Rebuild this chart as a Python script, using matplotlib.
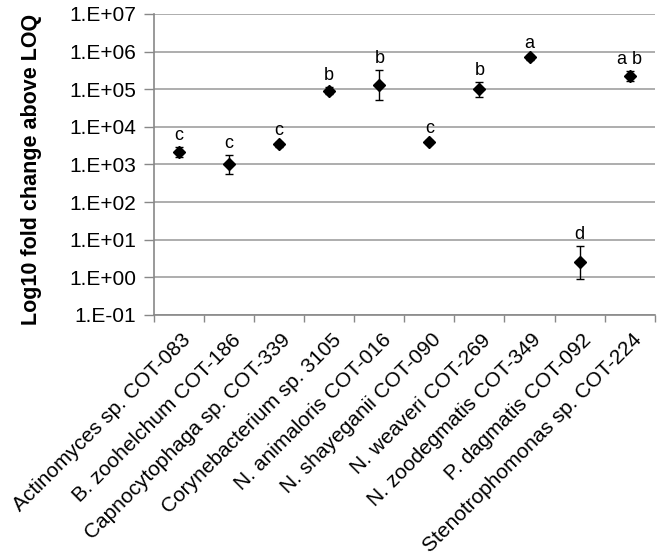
import numpy as np
import matplotlib.pyplot as plt
from matplotlib.ticker import FixedLocator, NullFormatter
from matplotlib.transforms import ScaledTranslation

plt.rcParams['font.family'] = ['Liberation Sans', 'DejaVu Sans']

# data
strains = ['Actinomyces sp. COT-083', 'B. zoohelchum COT-186', 'Capnocytophaga sp. COT-339',
           'Corynebacterium sp. 3105', 'N. animaloris COT-016', 'N. shayeganii COT-090',
           'N. weaveri COT-269', 'N. zoodegmatis COT-349', 'P. dagmatis COT-092',
           'Stenotrophomonas sp. COT-224']
fold_change = [2.1e3, 1.0e3, 3.4e3, 9.1e4, 1.3e5, 4.0e3, 1.0e5, 7.0e5, 2.6, 2.2e5]
err_upper = [2.9e3, 1.8e3, 3.9e3, 1.12e5, 3.2e5, 4.6e3, 1.6e5, 8.2e5, 7.0, 3.1e5]
err_lower = [1.6e3, 5.5e2, 3.0e3, 7.3e4, 5.1e4, 3.5e3, 6.3e4, 6.0e5, 0.9, 1.7e5]
letters = ['c', 'c', 'c', 'b', 'b', 'c', 'b', 'a', 'd', 'a b']
ytick_vals = [1e-1, 1e0, 1e1, 1e2, 1e3, 1e4, 1e5, 1e6, 1e7]
ytick_labels = ['1.E-01', '1.E+00', '1.E+01', '1.E+02', '1.E+03', '1.E+04',
                '1.E+05', '1.E+06', '1.E+07']

fig = plt.figure(figsize=(6.62, 5.58), dpi=100)
ax = fig.add_axes([0.2326, 0.4355, 0.7564, 0.5395])

x = np.arange(len(strains)) + 0.5
y = np.array(fold_change)
yerr = [y - np.array(err_lower), np.array(err_upper) - y]
ax.errorbar(x, y, yerr=yerr, fmt='D', color='black', ms=6, ecolor='black',
            elinewidth=1, capsize=3, capthick=1, zorder=3)

for xi, top, lab in zip(x, err_upper, letters):
    ax.annotate(lab, (xi, top), xytext=(0, 5), textcoords='offset points',
                ha='center', va='baseline', fontsize=13)

ax.set_yscale('log')
ax.set_ylim(1e-1, 1e7)
ax.set_xlim(0, len(strains))
ax.yaxis.set_major_locator(FixedLocator(ytick_vals))
ax.set_yticks(ytick_vals)
ax.set_yticklabels(ytick_labels, fontsize=15)
ax.yaxis.set_minor_formatter(NullFormatter())
ax.tick_params(axis='y', which='minor', length=0)
ax.tick_params(axis='y', which='major', length=7, pad=6, color='#888888', width=1)

ax.set_xticks(np.arange(len(strains) + 1))
ax.set_xticklabels([])
ax.set_xticks(x, minor=True)
ax.set_xticklabels(strains, minor=True, rotation=45, ha='right', va='top',
                   rotation_mode='anchor', fontsize=15)
ax.tick_params(axis='x', which='major', length=5, color='#888888', width=1)
ax.tick_params(axis='x', which='minor', length=0, pad=11)
shift = ScaledTranslation(0.02, 0, fig.dpi_scale_trans)
for lab in ax.get_xticklabels(minor=True):
    lab.set_transform(lab.get_transform() + shift)

ax.grid(axis='y', which='major', color='#a0a0a0', lw=1.2)
ax.set_axisbelow(True)
for s in ['top', 'right']:
    ax.spines[s].set_visible(False)
for s in ['left', 'bottom']:
    ax.spines[s].set_color('#888888')
    ax.spines[s].set_linewidth(1.2)

ax.set_ylabel('Log10 fold change above LOQ', fontsize=15.5, fontweight='bold')
ax.yaxis.set_label_coords(-0.2236, 0.485)

fig.savefig('out.png', dpi=100)
